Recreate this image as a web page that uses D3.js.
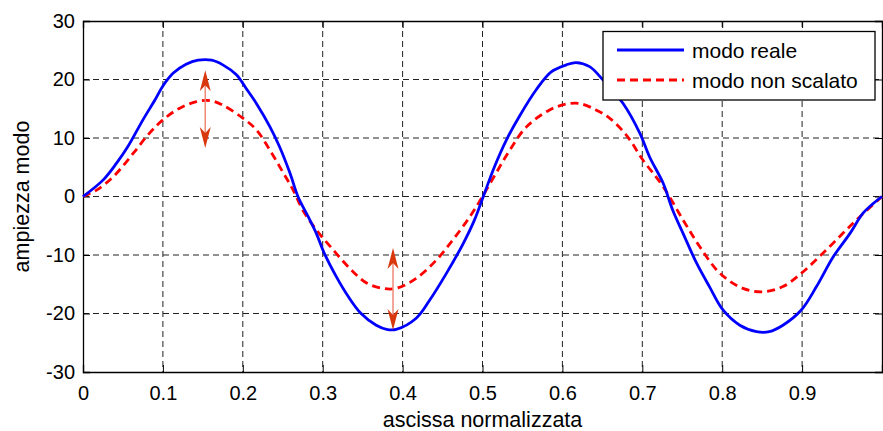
<!DOCTYPE html>
<html>
<head>
<meta charset="utf-8">
<script src="https://cdn.jsdelivr.net/npm/d3@7"></script>
<style>
    body { margin: 0; background: #fff; }
    #chart-area { width: 883px; height: 431px; }
    text { font-family: Arial, "Liberation Sans", sans-serif; fill: #000; }
</style>
</head>
<body>
<div id="chart-area"></div>
<script>

// modo reale (blue, solid)
let xReale = [0, 0.025, 0.042, 0.056, 0.075, 0.09, 0.1, 0.113, 0.129, 0.144, 0.161, 0.175, 0.192, 0.204, 0.217,
    0.234, 0.246, 0.259, 0.269, 0.282, 0.292, 0.302, 0.317, 0.332, 0.348, 0.367, 0.38, 0.392, 0.417, 0.434, 0.455,
    0.476, 0.49, 0.501, 0.515, 0.53, 0.547, 0.567, 0.586, 0.605, 0.617, 0.634, 0.651, 0.676, 0.697, 0.709, 0.726,
    0.738, 0.751, 0.768, 0.784, 0.801, 0.822, 0.843, 0.859, 0.876, 0.899, 0.918, 0.939, 0.96, 0.976, 0.989, 1.0];
let yReale = [0, 2.8, 5.7, 8.5, 13.1, 16.5, 18.9, 21.1, 22.6, 23.3, 23.3, 22.5, 20.8, 18.5, 15.9,
    11.9, 8.5, 4.0, 0, -3.5, -6.3, -9.7, -13.7, -17.1, -20.0, -22.0, -22.7, -22.7, -20.8, -17.7, -13.1,
    -8.0, -4.0, 0, 5.1, 9.7, 13.9, 18.2, 21.3, 22.5, 22.9, 22.2, 19.9, 15.9, 10.8, 6.8, 2.3,
    -2.3, -6.3, -11.4, -15.4, -19.4, -22.0, -23.1, -23.1, -22.0, -19.4, -15.4, -10.3, -6.3, -2.9, -1.2, 0];

// modo non scalato (red, dashed)
let xScalato = [0, 0.017, 0.038, 0.063, 0.083, 0.1, 0.121, 0.142, 0.159, 0.175, 0.2, 0.217, 0.234, 0.25, 0.263,
    0.275, 0.292, 0.313, 0.334, 0.355, 0.375, 0.392, 0.417, 0.442, 0.463, 0.484, 0.5, 0.517, 0.534, 0.555, 0.584,
    0.605, 0.622, 0.642, 0.659, 0.68, 0.701, 0.726, 0.751, 0.772, 0.797, 0.826, 0.851, 0.876, 0.901, 0.926, 0.951,
    0.972, 1.0];
let yScalato = [0, 1.1, 3.4, 7.4, 10.8, 13.1, 15.1, 16.2, 16.4, 15.6, 13.4, 11.4, 7.9, 4.2, 1.1,
    -2.3, -5.7, -9.1, -12.3, -14.8, -15.7, -15.7, -14.0, -10.9, -7.4, -3.5, 0, 4.0, 7.9, 11.9, 14.8,
    15.8, 15.9, 14.8, 13.4, 10.5, 6.2, 1.7, -4.0, -8.6, -13.1, -15.7, -16.3, -15.4, -12.9, -9.7, -6.3,
    -3.5, 0];

// double arrows (x position, top value, bottom value)
let arrowX = [0.153, 0.388];
let arrowTop = [21.6, -8.8];
let arrowBottom = [8.3, -22.8];

let xTicks = [0, 0.1, 0.2, 0.3, 0.4, 0.5, 0.6, 0.7, 0.8, 0.9, 1];
let xTickLabels = ["0", "0.1", "0.2", "0.3", "0.4", "0.5", "0.6", "0.7", "0.8", "0.9", ""];
let yTicks = [-30, -20, -10, 0, 10, 20, 30];
let yTickLabels = ["-30", "-20", "-10", "0", "10", "20", "30"];
let seriesNames = ["modo reale", "modo non scalato"];


class ModeChart {

    constructor(parentElement) {
        this.parentElement = parentElement;
        this.initVis();
    }

    initVis() {
        let vis = this;

        vis.margin = {top: 21, right: 1, bottom: 59, left: 83};
        vis.width = 883 - vis.margin.left - vis.margin.right;
        vis.height = 431 - vis.margin.top - vis.margin.bottom;

        vis.svg = d3.select("#" + vis.parentElement).append("svg")
            .attr("width", 883)
            .attr("height", 431)
            .append("g")
            .attr("transform", `translate(${vis.margin.left}, ${vis.margin.top})`);

        vis.x = d3.scaleLinear().domain([0, 1]).range([0, vis.width]);
        vis.y = d3.scaleLinear().domain([-30, 30]).range([vis.height, 0]);

        // grid
        vis.svg.append("g").selectAll("line.vgrid")
            .data(xTicks.slice(1, -1))
            .join("line")
            .attr("x1", d => vis.x(d)).attr("x2", d => vis.x(d))
            .attr("y1", 0).attr("y2", vis.height)
            .attr("stroke", "#222").attr("stroke-width", 1)
            .attr("stroke-dasharray", "6,4");

        vis.svg.append("g").selectAll("line.hgrid")
            .data(yTicks.slice(1, -1))
            .join("line")
            .attr("x1", 0).attr("x2", vis.width)
            .attr("y1", d => vis.y(d)).attr("y2", d => vis.y(d))
            .attr("stroke", "#222").attr("stroke-width", 1)
            .attr("stroke-dasharray", "6,4");

        // axes, ticks pointing inside like matlab
        vis.xAxis = d3.axisBottom(vis.x).tickValues(xTicks).tickSize(-7).tickPadding(14)
            .tickFormat((d, i) => xTickLabels[i]);
        vis.yAxis = d3.axisLeft(vis.y).tickValues(yTicks).tickSize(-7).tickPadding(8)
            .tickFormat((d, i) => yTickLabels[i]);

        let gx = vis.svg.append("g")
            .attr("class", "x-axis axis")
            .attr("transform", "translate(0," + vis.height + ")")
            .call(vis.xAxis);
        let gy = vis.svg.append("g")
            .attr("class", "y-axis axis")
            .call(vis.yAxis);
        let gTop = vis.svg.append("g")
            .call(d3.axisTop(vis.x).tickValues(xTicks).tickSize(-7).tickFormat(""));
        let gRight = vis.svg.append("g")
            .attr("transform", "translate(" + vis.width + ",0)")
            .call(d3.axisRight(vis.y).tickValues(yTicks).tickSize(-7).tickFormat(""));

        [gx, gy, gTop, gRight].forEach(g => {
            g.select(".domain").attr("stroke", "#000").attr("stroke-width", 1.3);
            g.selectAll(".tick line").attr("stroke", "#000");
        });
        gx.selectAll("text").attr("font-size", 20).attr("fill", "#000");
        gy.selectAll("text").attr("font-size", 20).attr("fill", "#000");

        // axis labels
        vis.svg.append("text")
            .attr("x", vis.width / 2)
            .attr("y", vis.height + 55)
            .attr("text-anchor", "middle")
            .attr("font-size", 21.5)
            .text("ascissa normalizzata");

        vis.svg.append("text")
            .attr("transform", `translate(-54, ${vis.height / 2}) rotate(-90)`)
            .attr("text-anchor", "middle")
            .attr("font-size", 21.5)
            .text("ampiezza modo");

        vis.wrangleData();
    }

    wrangleData() {
        let vis = this;

        vis.displayData = [
            {name: seriesNames[0], values: xReale.map((d, i) => ({x: d, y: yReale[i]})), color: "#0000ff", dash: null},
            {name: seriesNames[1], values: xScalato.map((d, i) => ({x: d, y: yScalato[i]})), color: "#ff0000", dash: "8,5"}
        ];

        vis.arrows = arrowX.map((d, i) => ({x: d, top: arrowTop[i], bottom: arrowBottom[i]}));

        vis.updateVis();
    }

    updateVis() {
        let vis = this;

        let line = d3.line()
            .x(d => vis.x(d.x))
            .y(d => vis.y(d.y))
            .curve(d3.curveCatmullRom.alpha(0.5));

        vis.svg.append("g").selectAll("path.series")
            .data(vis.displayData.slice().reverse())
            .join("path")
            .attr("class", "series")
            .attr("d", d => line(d.values))
            .attr("fill", "none")
            .attr("stroke", d => d.color)
            .attr("stroke-width", 2.8)
            .attr("stroke-dasharray", d => d.dash);

        // arrows
        let ag = vis.svg.append("g").selectAll("g.arrow")
            .data(vis.arrows)
            .join("g")
            .attr("class", "arrow");

        ag.append("line")
            .attr("x1", d => vis.x(d.x)).attr("x2", d => vis.x(d.x))
            .attr("y1", d => vis.y(d.top) + 12).attr("y2", d => vis.y(d.bottom) - 12)
            .attr("stroke", "#f08a78").attr("stroke-width", 1.5);

        let head = (px, py, dir) => {
            // dir = 1 points up, -1 points down
            return `M${px},${py} L${px + 5.5},${py + dir * 21} L${px},${py + dir * 15} L${px - 5.5},${py + dir * 21} Z`;
        };
        ag.append("path")
            .attr("d", d => head(vis.x(d.x), vis.y(d.top), 1))
            .attr("fill", "#d8380c");
        ag.append("path")
            .attr("d", d => head(vis.x(d.x), vis.y(d.bottom), -1))
            .attr("fill", "#d8380c");

        // legend
        let lx = 520, ly = 10.5;
        let legend = vis.svg.append("g").attr("transform", `translate(${lx}, ${ly})`);
        legend.append("rect")
            .attr("width", 272).attr("height", 68.5)
            .attr("fill", "#fff").attr("stroke", "#000").attr("stroke-width", 1.3);

        let items = legend.selectAll("g.item")
            .data(vis.displayData)
            .join("g")
            .attr("class", "item")
            .attr("transform", (d, i) => `translate(0, ${18.5 + i * 30})`);
        items.append("line")
            .attr("x1", 14).attr("x2", 81)
            .attr("stroke", d => d.color).attr("stroke-width", 2.8)
            .attr("stroke-dasharray", d => d.dash);
        items.append("text")
            .attr("x", 89).attr("y", 8)
            .attr("font-size", 21)
            .text(d => d.name);
    }
}

let modeChart = new ModeChart("chart-area");

</script>
</body>
</html>
